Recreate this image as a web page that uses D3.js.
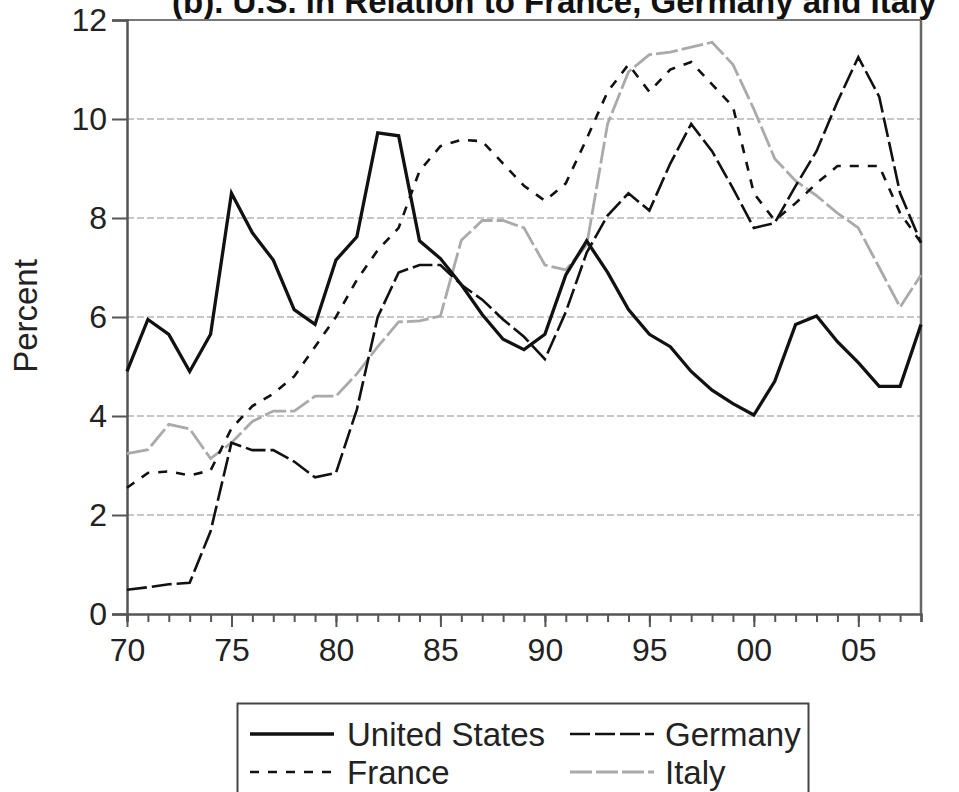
<!DOCTYPE html>
<html><head><meta charset="utf-8">
<script src="https://cdn.jsdelivr.net/npm/d3@7"></script>
<style>body{margin:0;background:#fff}svg{display:block}text{font-family:"Liberation Sans",Arial,sans-serif}</style>
</head><body><div id="chart"></div>
<script>
const years = d3.range(1970, 2009);
const unitedStates = [4.9,5.95,5.65,4.9,5.65,8.5,7.7,7.15,6.15,5.85, 7.15,7.62,9.72,9.66,7.54,7.18,6.65,6.05,5.55,5.34, 5.65,6.85,7.54,6.9,6.15,5.65,5.4,4.9,4.52,4.25, 4.02,4.7,5.85,6.02,5.5,5.08,4.6,4.6,5.85];
const france = [2.55,2.85,2.88,2.8,2.9,3.75,4.2,4.45,4.8,5.4, 6.0,6.75,7.35,7.8,8.95,9.45,9.58,9.55,9.1,8.65, 8.35,8.7,9.6,10.55,11.1,10.55,11.0,11.15,10.7,10.25, 8.5,7.95,8.3,8.7,9.05,9.05,9.05,8.1,7.5];
const germany = [0.49,0.54,0.6,0.63,1.67,3.46,3.31,3.31,3.08,2.76, 2.85,4.13,6.0,6.9,7.05,7.05,6.65,6.35,5.95,5.6, 5.15,6.1,7.3,8.05,8.5,8.15,9.1,9.9,9.35,8.6, 7.8,7.9,8.65,9.35,10.35,11.25,10.45,8.5,7.5];
const italy = [3.24,3.32,3.83,3.74,3.14,3.46,3.89,4.1,4.1,4.4, 4.4,4.85,5.4,5.9,5.92,6.02,7.55,7.95,7.95,7.8, 7.05,6.95,7.45,9.9,10.95,11.3,11.35,11.45,11.55,11.1, 10.2,9.2,8.75,8.45,8.1,7.8,7.0,6.2,6.85];
const xTickYears = [1970,1975,1980,1985,1990,1995,2000,2005];
const xTickLabels = ["70","75","80","85","90","95","00","05"];
const yTicks = [0,2,4,6,8,10,12];
const seriesNames = ["United States","France","Germany","Italy"];
const title = "(b). U.S. in Relation to France, Germany and Italy";
const yLabel = "Percent";

const W = 959, H = 792;
const FONT = '"Liberation Sans",Arial,sans-serif';
const svg = d3.select("#chart").append("svg").attr("width", W).attr("height", H);
const x = d3.scaleLinear().domain([1970, 2008]).range([127, 921]);
const y = d3.scaleLinear().domain([0, 12]).range([614, 20]);

// title (partly cut off at the top, as in the reference)
svg.append("text").attr("x", 172).attr("y", 13).attr("text-anchor", "start")
  .attr("font-size", 33).attr("font-weight", "bold").attr("fill", "#111").text(title);

// gridlines
svg.append("g").selectAll("line").data(yTicks.filter(d => d > 0 && d < 12)).join("line")
  .attr("x1", x(1970)).attr("x2", x(2008)).attr("y1", d => y(d)).attr("y2", d => y(d))
  .attr("stroke", "#b5b5b5").attr("stroke-width", 1.5).attr("stroke-dasharray", "7,3");

// frame top/right
svg.append("line").attr("x1", x(1970)).attr("x2", x(2008)).attr("y1", y(12)).attr("y2", y(12))
  .attr("stroke", "#777").attr("stroke-width", 2);
svg.append("line").attr("x1", x(2008)).attr("x2", x(2008)).attr("y1", y(12)).attr("y2", y(0))
  .attr("stroke", "#666").attr("stroke-width", 2.5);

// y axis
const yAxis = svg.append("g").attr("transform", `translate(${x(1970)},0)`)
  .call(d3.axisLeft(y).tickValues(yTicks).tickSize(15).tickPadding(5).tickFormat(d3.format("d")));
yAxis.select(".domain").attr("stroke", "#555").attr("stroke-width", 2.5);
yAxis.selectAll(".tick line").attr("stroke", "#555").attr("stroke-width", 2);
yAxis.selectAll("text").attr("font-size", 32).attr("fill", "#222").attr("font-family", FONT);

// x axis: minor ticks every year, major every five
const xMinor = svg.append("g").attr("transform", `translate(0,${y(0)})`)
  .call(d3.axisBottom(x).tickValues(years).tickSize(8).tickFormat(""));
xMinor.select(".domain").attr("stroke", "#555").attr("stroke-width", 2.5);
xMinor.selectAll(".tick line").attr("stroke", "#555").attr("stroke-width", 2);
const xMajor = svg.append("g").attr("transform", `translate(0,${y(0)})`)
  .call(d3.axisBottom(x).tickValues(xTickYears).tickSize(13).tickPadding(11)
    .tickFormat((d, i) => xTickLabels[i]));
xMajor.select(".domain").remove();
xMajor.selectAll(".tick line").attr("stroke", "#555").attr("stroke-width", 2);
xMajor.selectAll("text").attr("font-size", 32).attr("fill", "#222").attr("font-family", FONT);

// y label
svg.append("text").attr("transform", `translate(37,316) rotate(-90)`).attr("text-anchor", "middle")
  .attr("font-size", 33).attr("fill", "#222").text(yLabel);

const styles = [
  {name: seriesNames[0], data: unitedStates, color: "#111", width: 3.3, dash: null},
  {name: seriesNames[1], data: france, color: "#111", width: 2.6, dash: "9,9"},
  {name: seriesNames[2], data: germany, color: "#111", width: 2.6, dash: "20,5"},
  {name: seriesNames[3], data: italy, color: "#aaa", width: 2.8, dash: "22,4"}
];
const line = d3.line().x((d, i) => x(years[i])).y(d => y(d));
[3, 2, 1, 0].forEach(k => {
  const s = styles[k];
  svg.append("path").datum(s.data).attr("d", line).attr("fill", "none")
    .attr("stroke", s.color).attr("stroke-width", s.width)
    .attr("stroke-linejoin", "miter").attr("stroke-dasharray", s.dash);
});

// legend
const lg = svg.append("g");
lg.append("rect").attr("x", 237.5).attr("y", 703.5).attr("width", 571).attr("height", 100)
  .attr("fill", "none").attr("stroke", "#444").attr("stroke-width", 2);
const legPos = [
  {sx: 250, tx: 347, y: 734},
  {sx: 250, tx: 347, y: 772},
  {sx: 570, tx: 665, y: 734},
  {sx: 570, tx: 665, y: 772}
];
styles.forEach((s, i) => {
  const p = legPos[i];
  lg.append("line").attr("x1", p.sx).attr("x2", p.sx + 84).attr("y1", p.y).attr("y2", p.y)
    .attr("stroke", s.color).attr("stroke-width", s.width).attr("stroke-dasharray", s.dash);
  lg.append("text").attr("x", p.tx).attr("y", p.y + 12).attr("font-size", 33).attr("fill", "#222").text(s.name);
});
</script></body></html>
